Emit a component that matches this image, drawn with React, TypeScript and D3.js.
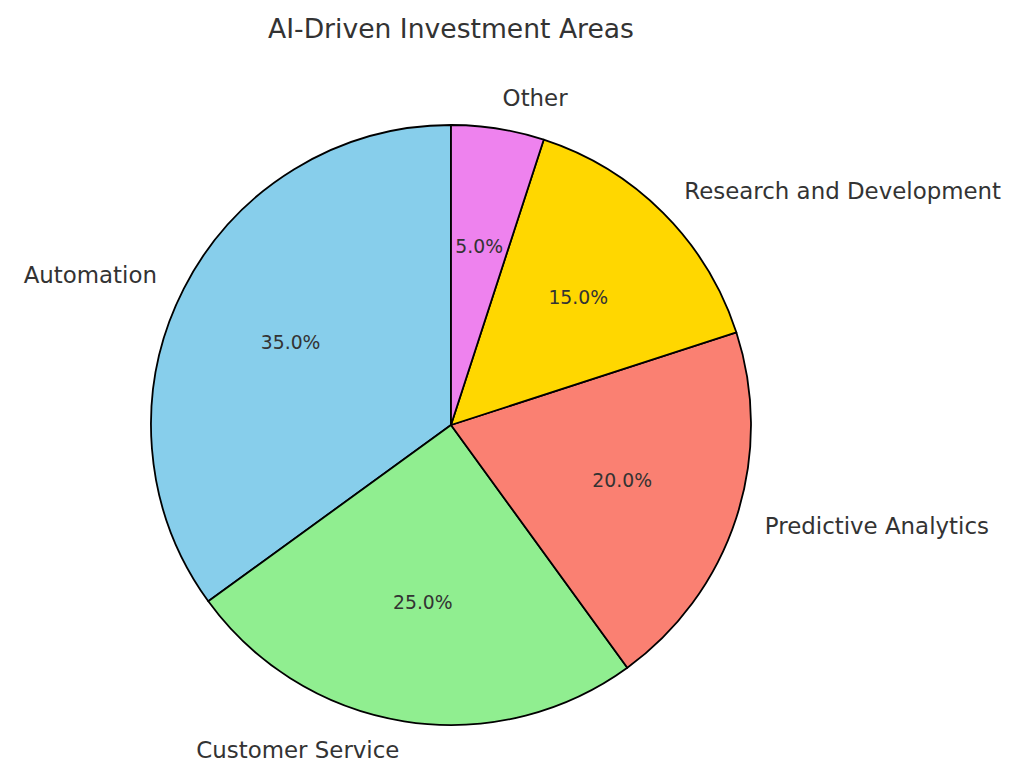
import React from 'react';
import * as d3 from 'd3';

const categories = ['Automation', 'Customer Service', 'Predictive Analytics', 'Research and Development', 'Other'];
const shares = [35, 25, 20, 15, 5];
const colors = ['#87CEEB', '#90EE90', '#FA8072', '#FFD700', '#EE82EE'];

const W = 1022;
const H = 769;
const cx = 451;
const cy = 425;
const R = 300;
const FONT = 'DejaVu Sans, sans-serif';

export default function App() {
  // matplotlib style: start at 12 o'clock, go counterclockwise
  const pie = d3.pie<number>().sort(null).startAngle(0).endAngle(-2 * Math.PI);
  const arcs = pie(shares);
  const arc = d3.arc<d3.PieArcDatum<number>>().innerRadius(0).outerRadius(R);
  const total = d3.sum(shares);

  const at = (a: number, r: number) => [r * Math.sin(a), -r * Math.cos(a)];

  return (
    <div style={{ position: 'absolute', left: 0, top: 0 }}>
      <svg width={W} height={H} style={{ display: 'block', background: '#fff' }}>
        <text x={cx} y={38} textAnchor="middle" fontFamily={FONT} fontSize={26.6} fill="#333">
          AI-Driven Investment Areas
        </text>
        <g transform={`translate(${cx},${cy})`}>
          {arcs.map((d, i) => (
            <path key={i} d={arc(d) || ''} fill={colors[i]} stroke="#000" strokeWidth={1.8} strokeLinejoin="round" />
          ))}
          {arcs.map((d, i) => {
            const mid = (d.startAngle + d.endAngle) / 2;
            const [lx, ly] = at(mid, R * 1.1);
            const [px, py] = at(mid, R * 0.6);
            return (
              <g key={i}>
                <text x={lx} y={ly} dy="0.32em" textAnchor={lx < 0 ? 'end' : 'start'}
                  fontFamily={FONT} fontSize={22.9} fill="#333">
                  {categories[i]}
                </text>
                <text x={px} y={py} dy="0.32em" textAnchor="middle" fontFamily={FONT} fontSize={18.8} fill="#333">
                  {((d.data / total) * 100).toFixed(1)}%
                </text>
              </g>
            );
          })}
        </g>
      </svg>
    </div>
  );
}
